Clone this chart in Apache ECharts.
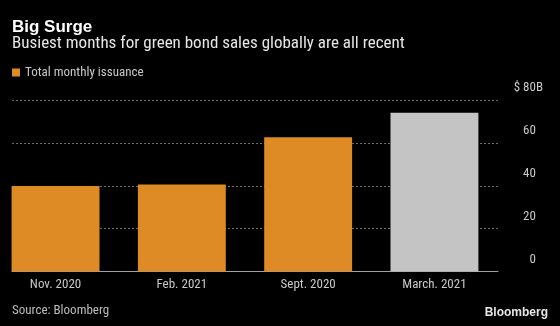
<!DOCTYPE html>
<html>
<head>
<meta charset="utf-8">
<script src="https://cdn.jsdelivr.net/npm/echarts@6/dist/echarts.min.js"></script>
<style>
html,body{margin:0;padding:0;background:#000;}
#chart{width:560px;height:326px;}
</style>
</head>
<body>
<div id="chart"></div>
<script>
const categories = ['Nov. 2020', 'Feb. 2021', 'Sept. 2020', 'March. 2021'];
const issuance = [39.9, 40.6, 62.6, 74];
const barColors = ['#de8b26', '#de8b26', '#de8b26', '#c4c4c4'];
const yTicks = [0, 20, 40, 60, 80];

const FONT = "'Roboto Condensed', 'DejaVu Sans Condensed', sans-serif";
const chart = echarts.init(document.getElementById('chart'), null, {renderer: 'canvas'});

const option = {
  backgroundColor: '#000',
  animation: false,
  title: [
    {text: 'Big Surge', left: 12, top: 19, padding: 0, textStyle: {color: '#fff', fontSize: 17, fontWeight: 'bold', fontFamily: "'Liberation Sans', sans-serif"}},
    {text: 'Busiest months for green bond sales globally are all recent', left: 12, top: 35, padding: 0, textStyle: {color: '#e6e6e6', fontSize: 17, fontWeight: 'normal', fontFamily: FONT}},
    {text: 'Source: Bloomberg', left: 12, top: 304, padding: 0, textStyle: {color: '#bdbdbd', fontSize: 13, fontWeight: 'normal', fontFamily: FONT}},
    {text: 'Bloomberg', right: 12, top: 307, padding: 0, textStyle: {color: '#e6e6e6', fontSize: 12, fontWeight: 'bold', fontFamily: "'Liberation Sans', sans-serif"}}
  ],
  legend: {
    left: 12, top: 66, padding: 0, itemWidth: 8, itemHeight: 8, itemGap: 8,
    icon: 'rect',
    data: [{name: 'Total monthly issuance', itemStyle: {color: '#de8b26'}}],
    textStyle: {color: '#c8c8c8', fontSize: 13, fontFamily: FONT}
  },
  grid: [
    {left: -7.6, right: 62.4, top: 100, bottom: 54.5, containLabel: false, outerBoundsMode: 'none'},
    {left: 12, right: 62, top: 100, bottom: 54.5, containLabel: false, outerBoundsMode: 'none'}
  ],
  xAxis: [
    {type: 'category', gridIndex: 0, data: categories,
     axisLine: {show: false}, axisTick: {show: false},
     axisLabel: {color: '#c8c8c8', fontSize: 13, fontFamily: FONT, margin: 7}},
    {type: 'value', gridIndex: 1, min: 0, max: 1, show: true,
     axisLine: {show: true, onZero: false, lineStyle: {color: '#a0a0a0', width: 1}},
     axisTick: {show: false}, axisLabel: {show: false}, splitLine: {show: false}}
  ],
  yAxis: [
    {type: 'value', gridIndex: 0, min: 0, max: 80, interval: 20, show: false, splitLine: {show: false}},
    {type: 'value', gridIndex: 1, min: 0, max: 80, interval: 20, position: 'right',
     axisLine: {show: false}, axisTick: {show: false},
     splitLine: {show: true, lineStyle: {color: '#6a6a6a', type: [2, 2], width: 1}},
     axisLabel: {
       align: 'right', margin: 45, verticalAlign: 'middle', padding: [0, 0, 24, 0],
       fontFamily: FONT, fontSize: 13, color: '#c8c8c8',
       formatter: function (v) { return v === 80 ? '{n|$ 80}{u|B}' : '{n|' + v + '}{h|B}'; },
       rich: {
         n: {color: '#c8c8c8', fontSize: 13, fontFamily: FONT},
         u: {color: '#c8c8c8', fontSize: 13, fontFamily: FONT},
         h: {color: 'rgba(0,0,0,0)', fontSize: 13, fontFamily: FONT}
       }
     }}
  ],
  series: [
    {name: 'Total monthly issuance', type: 'bar', xAxisIndex: 0, yAxisIndex: 0,
     barCategoryGap: '30.4%', z: 3,
     data: issuance.map((v, i) => ({value: v, itemStyle: {color: barColors[i]}}))},
    {type: 'line', xAxisIndex: 1, yAxisIndex: 1, data: [], silent: true}
  ]
};
chart.setOption(option);
</script>
</body>
</html>
